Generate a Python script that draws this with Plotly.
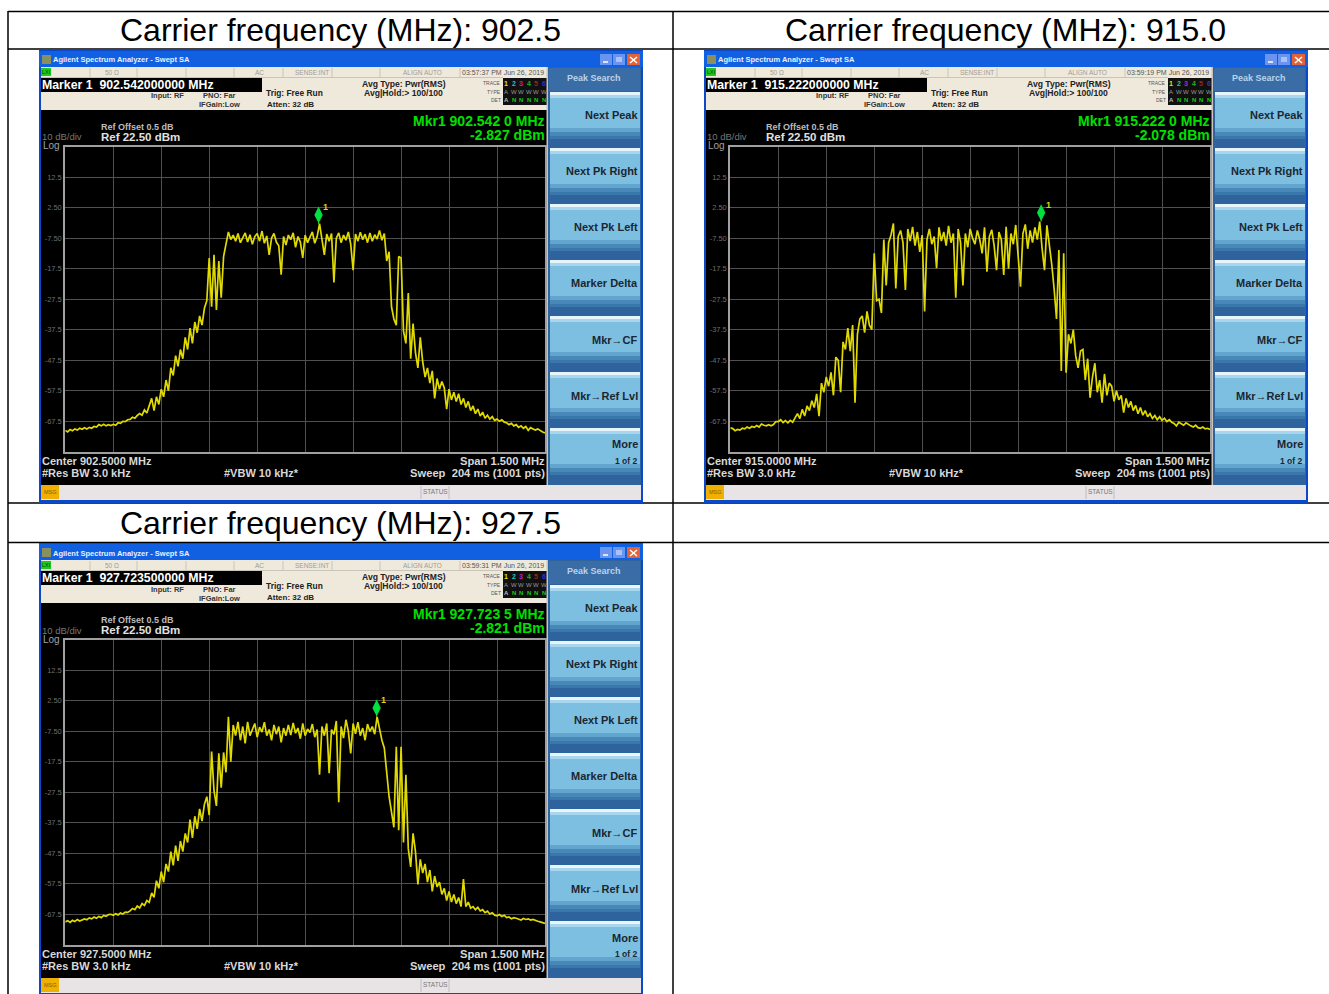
import plotly.graph_objects as go

W, H = 1329, 994
SWEEP_STEP_KHZ = 7.5

trace_902 = [
 -70.5,-71,-70.2,-70.6,-70,-70.4,-69.8,-70.1,-69.6,-70,
 -69.5,-69.8,-69.2,-69.4,-68.6,-69,-68.5,-69,-68.6,-68.9,
 -68.5,-68.8,-68,-68.2,-67.5,-67.6,-67,-66.9,-66.2,-66.5,
 -65.6,-65,-65.5,-63.8,-64.8,-62.5,-60,-64,-59.5,-62,
 -57,-59.5,-54,-57.5,-50,-52.5,-46,-49.5,-44,-47,
 -40,-44,-37,-42,-35,-38.5,-33,-36,-30.5,-28,
 -14,-30,-13,-31,-15,-27,-13.5,-9.5,-5.5,-8,
 -6.5,-8.5,-6,-9,-7.2,-5.8,-8.8,-6.4,-9.5,-7,
 -6,-8.5,-5.2,-9.2,-6.8,-13,-7.5,-6,-8.8,-10,
 -19.5,-7,-9.8,-6.5,-8,-5.8,-10.5,-7,-8.8,-14,
 -6.5,-9,-7.2,-5.5,-9.2,-7,-2.8,-7.5,-13,-6.2,
 -8.5,-6,-22,-7.5,-5.8,-9,-6.5,-8.2,-5.5,-9.5,
 -18,-6.2,-8.5,-5.6,-8,-6.2,-9,-5.8,-8.5,-6.4,
 -7.8,-5,-8.2,-6,-15,-12,-30,-34,-36,-13.5,
 -14,-38,-42,-25.5,-47,-35.5,-45,-50,-40,-48,
 -53,-50,-55,-51,-60,-53.5,-57,-54.5,-56.5,-63.5,
 -57,-60.5,-58,-61,-58.5,-62,-60,-63,-61,-64,
 -62.5,-65,-63.5,-65.8,-64.5,-66.5,-65.5,-66.8,-66,-67.2,
 -66.8,-67.5,-67,-67.8,-68,-68.6,-68.2,-69,-68.6,-69.5,
 -69,-69.8,-69.2,-70.5,-69.6,-70,-70.4,-70,-70.6,-71,
 -71.3,
]
trace_915 = [
 -69.6,-69.9,-70.6,-70.2,-70.4,-69.8,-70,-69.4,-69.8,-69.2,
 -69.5,-68.9,-69.4,-68.4,-68.8,-69,-68.6,-69,-68.6,-67.6,
 -67.6,-67,-67.9,-67.3,-68,-67.2,-67.8,-66.5,-65,-66.6,
 -63.6,-65.8,-62.5,-64,-60.8,-63,-58.5,-65.8,-55,-58,
 -53,-56,-51.5,-59,-46.5,-47.5,-58,-41.5,-44,-37,
 -44.5,-36,-61.4,-39,-34,-33,-38.5,-31.5,-36,-37.5,
 -12.5,-28,-27.5,-32,-8,-23,-9,-6.5,-2.7,-24,
 -7,-5,-9,-24.5,-4.5,-8.5,-3.8,-10,-5.5,-12,
 -6.5,-31.5,-8,-4.5,-9.5,-7,-17.4,-4,-8.5,-5.5,
 -10,-3.5,-9,-6,-27,-4.5,-9,-23,-6,-10.5,
 -4.5,-7.5,-9.5,-5,-8,-12.5,-4,-18.5,-7,-4.8,
 -10,-18,-5.5,-8,-19.6,-3.8,-17.5,-6,-9.5,-3.2,
 -14,-23.4,-6,-3,-11,-5,-9,-4,-8,-2.08,
 -11,-18,-3.3,-9,-16,-24,-34,-11.4,-51,-12.5,
 -51.6,-39,-42,-37.5,-46,-50,-44.5,-44,-54,-47,
 -59.8,-53,-48.5,-58,-54,-61.4,-52,-59,-55,-56,
 -61,-57.5,-60.5,-59,-64.7,-60,-63,-61,-64,-62.3,
 -65,-63,-65.5,-64,-66,-65,-66.6,-65.6,-67,-66,
 -67.2,-66.5,-67.6,-67,-67.8,-68.2,-69,-67.8,-68.4,-68.8,
 -68,-68.6,-69,-69.4,-68.8,-69.6,-69.8,-69.4,-70,-69.8,
 -70.2,
]
trace_927 = [
 -70,-69.6,-70.2,-69.5,-69.9,-69.2,-69.7,-69.4,-69,-69.3,
 -68.7,-69,-68.4,-68.8,-68.2,-68.6,-67.9,-68.2,-67.6,-67.5,
 -67.8,-67.3,-67.7,-67.1,-67.4,-66.8,-66.9,-66.4,-65.6,-66,
 -64.8,-65.4,-64,-64.6,-63,-63.6,-60.5,-62,-56.5,-59,
 -53.5,-57,-51,-53.5,-47,-51.5,-45,-50,-43.5,-47,
 -41,-44,-36.5,-42.5,-35.4,-39.5,-33,-37,-31.5,-29,
 -35,-14.2,-27,-32,-14.8,-26,-14.5,-21,-2.8,-17.5,
 -5.5,-9,-4.5,-10.5,-6,-11.5,-4.5,-9,-7,-5,
 -9.5,-6.2,-7.8,-4.6,-9,-7,-10.5,-5.5,-8.5,-6,
 -11.2,-6.5,-9,-5.5,-8.8,-4.8,-8.2,-6.5,-10,-5,
 -9,-6.8,-8,-5.2,-9.5,-7,-21.8,-6,-9,-5,
 -21.3,-7,-8.6,-4.2,-30.8,-6,-9.8,-3.8,-7.5,-14.8,
 -5,-8.4,-4.6,-9,-6.5,-10.5,-5.2,-7.6,-6,-8.5,
 -2.82,-7,-10.5,-13,-21,-29,-34,-39,-12.6,-40,
 -12.6,-44,-21.8,-46,-52,-41,-47,-57.7,-49.5,-54,
 -51,-57,-53,-60,-55,-58.5,-57,-61,-59,-63,
 -60,-63.5,-61,-64,-62,-65,-56,-65,-63.5,-65.5,
 -65,-66,-65.2,-66.4,-66,-67,-66.5,-67.4,-67,-67.8,
 -68,-67.6,-68.2,-67.8,-68.6,-68.4,-69,-68.6,-68.8,-69.2,
 -69.4,-68.9,-69.2,-69,-69.4,-69.2,-69.6,-69.8,-70,-70.2,
 -70.5,
]

carriers = ["902.5", "915.0", "927.5"]
centers = ["902.5000", "915.0000", "927.5000"]
marker_freq_long = ["902.542000000", "915.222000000", "927.723500000"]
marker_freq_short = ["902.542 0", "915.222 0", "927.723 5"]
marker_offset_khz = [42.0, 222.0, 223.5]
marker_db = [-2.827, -2.078, -2.821]
timestamps = ["03:57:37 PM", "03:59:19 PM", "03:59:31 PM"]
traces = [trace_902, trace_915, trace_927]
y_ticks = [12.5, 2.5, -7.5, -17.5, -27.5, -37.5, -47.5, -57.5, -67.5]
y_tick_text = ["12.5", "2.50", "-7.50", "-17.5", "-27.5", "-37.5", "-47.5", "-57.5", "-67.5"]
x_ticks = [-600, -450, -300, -150, 0, 150, 300, 450, 600]
softkeys = [("Next Peak", 115), ("Next Pk Right", 171), ("Next Pk Left", 227),
            ("Marker Delta", 283), ("Mkr→CF", 340), ("Mkr→Ref Lvl", 396)]
key_tops = [92, 148, 204, 260, 316, 372, 428]
origins = [(0, 0), (665, 0), (0, 493)]

FONT = "Liberation Sans"
shapes, notes = [], []
px = lambda x: x / W
py = lambda y: 1 - y / H


def rect(x0, y0, x1, y1, fill):
    shapes.append(dict(type="rect", xref="paper", yref="paper", x0=px(x0), x1=px(x1),
                       y0=py(y0), y1=py(y1), fillcolor=fill, line=dict(width=0), layer="below"))


def seg(x0, y0, x1, y1, color="#000000", w=1.5):
    shapes.append(dict(type="line", xref="paper", yref="paper", x0=px(x0), x1=px(x1),
                       y0=py(y0), y1=py(y1), line=dict(color=color, width=w), layer="below"))


def txt(x, y, s, size=8, color="#222222", anchor="left", bold=False):
    notes.append(dict(xref="paper", yref="paper", x=px(x), y=py(y), text=s, showarrow=False,
                      xanchor=anchor, yanchor="middle", borderpad=0, borderwidth=0,
                      font=dict(family=FONT, size=size, color=color,
                                weight="bold" if bold else "normal")))


# Table rules
for y in (11.5, 49, 503, 542.5):
    seg(8, y, W, y)
seg(8, 11, 8, H)
seg(673, 11, 673, H)

# Panel titles
title_centres = [(340.5, 30), (1005, 30), (340.5, 523)]
for (cx, cy), c in zip(title_centres, carriers):
    txt(cx, cy, f"Carrier frequency (MHz): {c}", 32, "#000000", "center")

layout = dict(width=W, height=H, margin=dict(l=0, r=0, t=0, b=0), showlegend=False,
              paper_bgcolor="#ffffff", plot_bgcolor="#000000", hovermode=False)
fig = go.Figure()

for n, (ox, oy) in enumerate(origins):
    # Window frame and title bar
    rect(ox + 39, oy + 50, ox + 643, oy + 503, "#0b49c8")
    rect(ox + 39, oy + 51, ox + 643, oy + 67, "#1160e2")
    txt(ox + 53, oy + 60, "Agilent Spectrum Analyzer - Swept SA", 7.5, "#e8f0ff", bold=True)
    rect(ox + 42, oy + 55, ox + 51, oy + 64, "#8a8f60")
    rect(ox + 600, oy + 54, ox + 612, oy + 65, "#6b94ee")
    rect(ox + 613, oy + 54, ox + 625, oy + 65, "#6b94ee")
    rect(ox + 627, oy + 54, ox + 640, oy + 65, "#e2633a")
    seg(ox + 603, oy + 62, ox + 608, oy + 62, "#ffffff", 1.5)
    rect(ox + 616, oy + 57, ox + 622, oy + 62, "#a9c2f5")
    seg(ox + 630, oy + 57, ox + 637, oy + 63, "#ffffff", 1.5)
    seg(ox + 637, oy + 57, ox + 630, oy + 63, "#ffffff", 1.5)

    # Instrument top strip
    rect(ox + 41, oy + 67, ox + 548, oy + 110, "#efe9dc")
    rect(ox + 41, oy + 68, ox + 51, oy + 76, "#1fc81f")
    txt(ox + 42, oy + 72, "LXI", 5.5, "#104010")
    for sx in (90, 137, 186, 234, 283, 332, 380, 460):
        seg(ox + sx, oy + 68, ox + sx, oy + 77, "#c9c4b8", 1)
    seg(ox + 41, oy + 77.5, ox + 503, oy + 77.5, "#c9c4b8", 1)
    txt(ox + 112, oy + 72, "50 Ω", 6.5, "#a09c94", "center")
    txt(ox + 259, oy + 72, "AC", 6.5, "#a09c94", "center")
    txt(ox + 312, oy + 72, "SENSE:INT", 6.5, "#a09c94", "center")
    txt(ox + 422, oy + 72, "ALIGN AUTO", 6.5, "#a09c94", "center")
    txt(ox + 503, oy + 72, f"{timestamps[n]} Jun 26, 2019", 7, "#555555", "center")

    rect(ox + 41, oy + 78, ox + 262, oy + 92, "#000000")
    txt(ox + 42, oy + 85, f"Marker 1  {marker_freq_long[n]} MHz", 12.3, "#ffffff", bold=True)
    txt(ox + 167, oy + 96, "Input: RF", 7.5, "#333333", "center", True)
    txt(ox + 219, oy + 96, "PNO: Far", 7.5, "#333333", "center", True)
    txt(ox + 219, oy + 105, "IFGain:Low", 7.5, "#333333", "center", True)
    txt(ox + 266, oy + 93, "Trig: Free Run", 8.4, "#222222", bold=True)
    txt(ox + 267, oy + 104, "Atten: 32 dB", 8, "#222222", bold=True)
    txt(ox + 404, oy + 84, "Avg Type: Pwr(RMS)", 8.6, "#222222", "center", True)
    txt(ox + 403, oy + 93, "Avg|Hold:> 100/100", 8.6, "#222222", "center", True)

    # Trace status box
    rect(ox + 503, oy + 78, ox + 547, oy + 105, "#101010")
    txt(ox + 501, oy + 83, "TRACE", 5, "#555555", "right")
    txt(ox + 501, oy + 92, "TYPE", 5, "#555555", "right")
    txt(ox + 501, oy + 100, "DET", 5, "#555555", "right")
    trace_cols = ["#e8e000", "#20c0c0", "#c020c0", "#20b020", "#a02020", "#3030d0"]
    for k, col in enumerate(trace_cols):
        txt(ox + 506 + 7.6 * k, oy + 83, str(k + 1), 7, col, "center", True)
        txt(ox + 506 + 7.6 * k, oy + 92, "W" if k else "A", 6, "#999999", "center")
        txt(ox + 506 + 7.6 * k, oy + 100, "N" if k else "A", 6, "#19c819" if k else "#bbbbbb", "center", True)

    # Screen
    rect(ox + 41, oy + 110, ox + 548, oy + 485, "#000000")
    seg(ox + 547.5, oy + 67, ox + 547.5, oy + 485, "#c8c4bc", 2)
    txt(ox + 101, oy + 127, "Ref Offset 0.5 dB", 9, "#bdbdbd", bold=True)
    txt(ox + 101, oy + 137, "Ref 22.50 dBm", 11.5, "#e0e0e0", bold=True)
    txt(ox + 42, oy + 137, "10 dB/div", 9.5, "#777777")
    txt(ox + 43, oy + 146, "Log", 10, "#a0a0a0")
    txt(ox + 545, oy + 120.5, f"Mkr1 {marker_freq_short[n]} MHz", 14, "#00e000", "right", True)
    txt(ox + 545, oy + 134.5, f"{marker_db[n]:.3f} dBm", 14, "#00e000", "right", True)
    txt(ox + 42, oy + 461, f"Center {centers[n]} MHz", 11, "#d8d8d8", bold=True)
    txt(ox + 42, oy + 473, "#Res BW 3.0 kHz", 11, "#d8d8d8", bold=True)
    txt(ox + 224, oy + 473, "#VBW 10 kHz*", 11, "#d8d8d8", bold=True)
    txt(ox + 545, oy + 461, "Span 1.500 MHz", 11.2, "#d8d8d8", "right", True)
    txt(ox + 545, oy + 473, "Sweep  204 ms (1001 pts)", 11.2, "#d8d8d8", "right", True)

    # Status bar
    rect(ox + 41, oy + 485, ox + 641, oy + 500, "#e8e4e6")
    rect(ox + 41, oy + 485, ox + 59, oy + 499, "#f0b000")
    txt(ox + 50, oy + 492, "MSG", 5.5, "#806000", "center")
    seg(ox + 421, oy + 486, ox + 421, oy + 499, "#c0bcbc", 1)
    seg(ox + 449, oy + 486, ox + 449, oy + 499, "#c0bcbc", 1)
    txt(ox + 435, oy + 491.5, "STATUS", 6.5, "#777777", "center")

    # Softkey panel
    rect(ox + 548, oy + 67, ox + 641, oy + 485, "#2f639e")
    rect(ox + 549, oy + 68, ox + 640, oy + 91, "#3a6da6")
    txt(ox + 594, oy + 78, "Peak Search", 9, "#b9d3ea", "center", True)
    for top in key_tops:
        rect(ox + 550, top + oy, ox + 640, top + oy + 42, "#7dbfe0")
        rect(ox + 550, top + oy, ox + 640, top + oy + 3, "#e6f4fb")
        rect(ox + 550, top + oy + 3, ox + 640, top + oy + 6, "#a8d6ec")
        rect(ox + 550, top + oy + 36, ox + 640, top + oy + 40, "#62a6cf")
        rect(ox + 550, top + oy + 40, ox + 640, top + oy + 44, "#4788b8")
        rect(ox + 550, top + oy + 44, ox + 640, top + oy + 47, "#3a78ac")
    for label, y in softkeys:
        txt(ox + 638, oy + y, label, 11, "#1c2630", "right", True)
    txt(ox + 638, oy + 444.5, "More", 11, "#1c2630", "right", True)
    txt(ox + 637, oy + 460.5, "1 of 2", 8.5, "#1c2630", "right", True)

    # Spectrum plot
    suffix = "" if n == 0 else str(n + 1)
    x_id, y_id = f"x{suffix}", f"y{suffix}"
    left, right = ox + 65.3, ox + 545
    top, bottom = oy + 146.5, oy + 451.8
    layout[f"xaxis{suffix}"] = dict(
        domain=[px(left), px(right)], range=[-750, 750], anchor=y_id, tickvals=x_ticks,
        showticklabels=False, ticks="", showgrid=True, gridcolor="#505050", gridwidth=1.2,
        zeroline=False, showline=True, mirror=True, linecolor="#a0a0a0", linewidth=2)
    layout[f"yaxis{suffix}"] = dict(
        domain=[py(bottom), py(top)], range=[-77.5, 22.5], anchor=x_id, tickvals=y_ticks,
        ticktext=y_tick_text, ticks="", showgrid=True, gridcolor="#505050", gridwidth=1.2,
        zeroline=False, showline=True, mirror=True, linecolor="#a0a0a0", linewidth=2,
        tickfont=dict(family=FONT, size=7.5, color="#6e6e6e"))
    freq_khz = [-750 + SWEEP_STEP_KHZ * i for i in range(len(traces[n]))]
    fig.add_trace(go.Scatter(x=freq_khz, y=traces[n], mode="lines", xaxis=x_id, yaxis=y_id,
                             line=dict(color="#e0da00", width=1.7)))
    # Marker 1 rides just above its reading, joined by a short stem
    lift = 2.9
    fig.add_trace(go.Scatter(x=[marker_offset_khz[n]] * 2, y=[marker_db[n], marker_db[n] + lift],
                             mode="lines", xaxis=x_id, yaxis=y_id,
                             line=dict(color="#a8b000", width=1)))
    fig.add_trace(go.Scatter(x=[marker_offset_khz[n]], y=[marker_db[n] + lift], mode="markers",
                             xaxis=x_id, yaxis=y_id,
                             marker=dict(symbol="diamond-tall", size=12, color="#00e040", line=dict(width=0))))
    notes.append(dict(xref=x_id, yref=y_id, x=marker_offset_khz[n], y=marker_db[n] + lift,
                      text="1", showarrow=False, xshift=7, yshift=8, borderpad=0,
                      font=dict(family=FONT, size=9, color="#d8d800", weight="bold")))

layout["shapes"] = shapes
layout["annotations"] = notes
fig.update_layout(**layout)
fig.write_html("out.html", config=dict(displayModeBar=False),
               post_script="document.body.style.margin='0';document.documentElement.style.overflow='hidden';")
